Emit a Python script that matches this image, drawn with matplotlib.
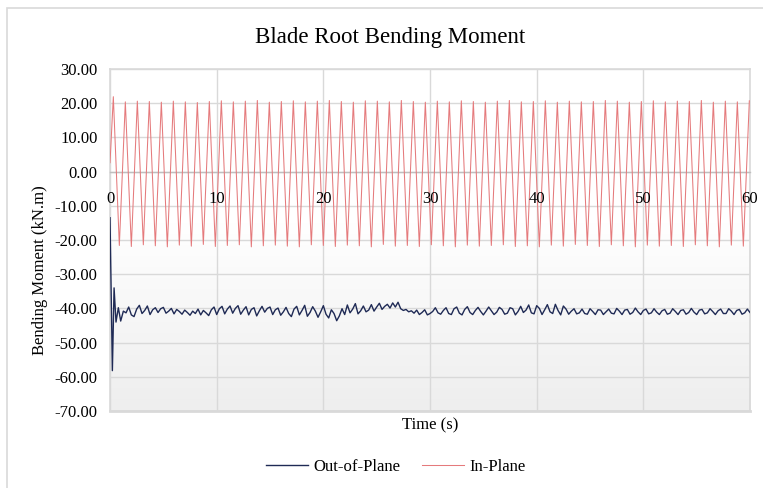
#!/usr/bin/env python
# -*- coding: utf-8 -*-

"""
plot.py

Momento fletor na raiz da pá (out-of-plane / in-plane) ao longo do tempo.
Salva o gráfico em out.png.
"""

from __future__ import annotations

import numpy as np
import matplotlib

matplotlib.use("Agg")
import matplotlib.pyplot as plt
import matplotlib.transforms as mtransforms
from matplotlib.colors import LinearSegmentedColormap
from matplotlib.patches import Rectangle


# ============================================================
# Dados
# ============================================================

TITLE = "Blade Root Bending Moment"
X_LABEL = "Time (s)"
Y_LABEL = "Bending Moment (kN.m)"
SERIES_NAMES = ["Out-of-Plane", "In-Plane"]

X_TICKS = [0, 10, 20, 30, 40, 50, 60]
Y_TICKS = [30, 20, 10, 0, -10, -20, -30, -40, -50, -60, -70]

# Out-of-plane: transitório inicial (tempos e valores)
oop_transient_t = [0.0, 0.22, 0.38, 0.56, 0.78, 1.0, 1.25]
oop_transient_v = [-13.5, -58.2, -34.0, -44.0, -39.8, -43.7, -40.8]

# Out-of-plane: regime, amostras a cada 0.25 s a partir de 1.5 s
oop_start = 1.5
oop_dt = 0.25
oop_values = [
    # 1.5 - 6.25
    -41.3, -39.6, -41.9, -42.4, -40.2, -39.1, -41.5, -40.6, -39.3, -41.8,
    -40.4, -39.8, -41.2, -40.1, -39.7, -41.4, -40.8, -40.0, -41.6, -40.3,
    # 6.5 - 11.25
    -40.9, -41.7, -40.5, -41.2, -42.0, -40.8, -41.5, -40.2, -41.9, -40.6,
    -41.3, -42.1, -40.4, -39.6, -41.8, -40.1, -39.4, -41.6, -40.2, -39.3,
    # 11.5 - 16.25
    -41.4, -40.0, -39.2, -41.7, -40.5, -39.5, -41.9, -40.3, -39.8, -42.2,
    -40.7, -39.4, -41.1, -40.0, -39.6, -41.8, -40.4, -39.9, -42.0, -41.0,
    # 16.5 - 21.25
    -39.7, -41.5, -42.4, -40.2, -39.4, -41.9, -40.6, -39.1, -42.3, -41.2,
    -39.5, -40.8, -42.6, -41.0, -39.2, -41.7, -42.8, -40.4, -41.5, -43.6,
    # 21.5 - 26.25
    -42.2, -40.1, -41.8, -39.0, -41.3, -40.2, -38.6, -41.6, -40.7, -39.3,
    -41.0, -40.5, -38.9, -40.8, -39.6, -38.5, -40.3, -39.4, -38.8, -39.9,
    # 26.5 - 31.25
    -38.4, -39.6, -38.2, -40.1, -40.6, -40.3, -41.0, -40.7, -41.4, -40.5,
    -41.8, -41.2, -40.4, -41.9, -41.5, -40.9, -39.8, -41.3, -41.7, -40.6,
    # 31.5 - 36.25
    -39.8, -41.5, -41.8, -40.1, -39.6, -41.4, -41.9, -40.3, -39.5, -41.2,
    -41.8, -40.6, -39.7, -40.9, -41.9, -40.8, -39.6, -40.7, -41.8, -41.1,
    # 36.5 - 41.25
    -39.7, -40.3, -41.7, -41.4, -39.8, -40.1, -41.9, -40.9, -39.4, -41.2,
    -40.5, -39.0, -41.3, -41.6, -39.2, -40.0, -41.8, -40.4, -38.9, -41.0,
    # 41.5 - 46.25
    -41.5, -38.8, -40.6, -41.9, -39.3, -40.2, -41.7, -40.8, -40.1, -41.6,
    -41.3, -40.2, -41.5, -41.7, -40.1, -40.9, -41.8, -40.4, -40.5, -41.8,
    # 46.5 - 51.25
    -41.0, -40.2, -41.4, -41.6, -40.0, -40.8, -41.8, -40.5, -40.3, -41.7,
    -41.2, -39.9, -41.0, -41.8, -40.6, -40.2, -41.6, -41.3, -40.1, -41.1,
    # 51.5 - 56.25
    -41.8, -40.7, -40.3, -41.7, -41.4, -40.1, -40.9, -41.8, -40.6, -40.4,
    -41.7, -41.2, -40.0, -41.1, -41.8, -40.5, -40.3, -41.6, -41.3, -40.1,
    # 56.5 - 60
    -40.9, -41.8, -40.7, -40.2, -41.5, -41.5, -40.1, -40.8, -41.8, -40.6,
    -40.3, -41.7, -41.3, -40.2, -41.2,
]

# In-plane: valor inicial e extremos (picos / vales) a cada meio período
ip_initial_v = 2.6
ip_first_extreme_t = 0.31
ip_half_period = 0.5625
ip_peaks = [
    21.9, 20.4, 20.6, 20.5, 20.3, 20.6, 20.4, 20.2, 20.5, 20.7,
    20.4, 20.6, 20.8, 20.3, 20.5, 20.7, 20.4, 20.6, 20.8, 20.5,
    20.3, 20.7, 20.6, 20.4, 20.8, 20.5, 20.3, 20.6, 20.4, 20.7,
    20.5, 20.3, 20.6, 20.8, 20.4, 20.5, 20.7, 20.3, 20.6, 20.4,
    20.5, 20.8, 20.6, 20.3, 20.5, 20.7, 20.4, 20.6, 20.5, 20.8,
    20.3, 20.6, 20.4, 20.7,
]
ip_troughs = [
    -21.6, -21.9, -21.4, -21.7, -22.0, -21.5, -21.8, -21.3, -21.9, -21.6,
    -21.4, -22.0, -21.7, -21.5, -21.8, -22.0, -21.4, -21.6, -21.9, -21.5,
    -21.7, -22.0, -21.3, -21.8, -21.6, -21.9, -21.4, -21.7, -22.0, -21.5,
    -21.8, -21.6, -21.4, -21.9, -21.7, -22.0, -21.5, -21.8, -21.3, -21.6,
    -21.9, -21.4, -21.7, -22.0, -21.5, -21.8, -21.6, -21.9, -21.4, -21.7,
    -22.0, -21.5, -21.8,
]


# ============================================================
# Montagem das séries
# ============================================================

def build_out_of_plane() -> tuple[np.ndarray, np.ndarray]:
    t_steady = oop_start + oop_dt * np.arange(len(oop_values))
    t = np.concatenate([oop_transient_t, t_steady])
    v = np.concatenate([oop_transient_v, oop_values])
    return t, v


def build_in_plane() -> tuple[np.ndarray, np.ndarray]:
    extremes = []
    for i, peak in enumerate(ip_peaks):
        extremes.append(peak)
        if i < len(ip_troughs):
            extremes.append(ip_troughs[i])
    t_ext = ip_first_extreme_t + ip_half_period * np.arange(len(extremes))
    t = np.concatenate([[0.0], t_ext])
    v = np.concatenate([[ip_initial_v], extremes])
    return t, v


# ============================================================
# Gráfico
# ============================================================

def main() -> None:
    plt.rcParams["font.family"] = ["Liberation Serif", "DejaVu Serif"]

    fig = plt.figure(figsize=(7.63, 4.88), dpi=100)
    ax = fig.add_axes([0.1442, 0.1578, 0.8388, 0.7008])

    # borda do "chart area" estilo Excel
    fig.patches.append(
        Rectangle(
            (7 / 763, -0.05), 1.2, 1 - 8 / 488 + 0.05,
            transform=fig.transFigure, facecolor="none",
            edgecolor="#d9d9d9", linewidth=1.2, zorder=0,
        )
    )

    # fundo com gradiente (branco em cima, cinza claro embaixo)
    grad = np.linspace(0, 1, 256).reshape(-1, 1)
    grad = np.clip((grad - 0.45) / 0.55, 0, 1)
    cmap = LinearSegmentedColormap.from_list("bg", ["#ffffff", "#eeeeee"])
    ax.imshow(
        grad, aspect="auto", cmap=cmap, extent=[0, 60, -70, 30],
        origin="upper", zorder=0, vmin=0, vmax=1,
    )

    t_oop, v_oop = build_out_of_plane()
    t_ip, v_ip = build_in_plane()

    ax.plot(t_oop, v_oop, color="#1f2a55", linewidth=1.0,
            label=SERIES_NAMES[0], zorder=3)
    ax.plot(t_ip, v_ip, color="#e57a7c", linewidth=0.75,
            label=SERIES_NAMES[1], zorder=3)

    ax.set_xlim(0, 60)
    ax.set_ylim(-70, 30)

    ax.set_xticks(X_TICKS)
    ax.set_xticklabels([])
    ax.set_yticks(Y_TICKS)
    ax.set_yticklabels([f"{y:.2f}" for y in Y_TICKS], fontsize=12)
    ax.tick_params(axis="both", length=0)
    ax.tick_params(axis="y", pad=9)

    # rótulos do eixo x logo abaixo da linha y = 0, por cima das curvas
    offset = mtransforms.ScaledTranslation(0, -14 / 72, fig.dpi_scale_trans)
    for x in X_TICKS:
        ax.text(x, 0, str(x), fontsize=12, ha="center", va="top",
                transform=ax.transData + offset, zorder=6, clip_on=False)

    ax.grid(True, color="#d9d9d9", linewidth=1.0, zorder=1)
    ax.set_axisbelow(True)

    # eixo x cruzando em y = 0
    for side in ["top", "right", "left"]:
        ax.spines[side].set_color("#d9d9d9")
        ax.spines[side].set_linewidth(1.2)
    ax.spines["bottom"].set_position(("data", 0))
    ax.spines["bottom"].set_color("#bfbfbf")
    ax.spines["bottom"].set_linewidth(1.0)
    ax.plot([0, 1], [0, 0], transform=ax.transAxes, color="#d9d9d9",
            linewidth=2.0, clip_on=False, zorder=2)

    fig.text(390 / 763, 1 - 37 / 488, TITLE, fontsize=16.5,
             ha="center", va="center")
    fig.text(430 / 763, 1 - 425 / 488, X_LABEL, fontsize=12,
             ha="center", va="center")
    fig.text(40 / 763, 1 - 270 / 488, Y_LABEL, fontsize=12,
             ha="center", va="center", rotation=90)

    handles, labels = ax.get_legend_handles_labels()
    fig.legend(
        handles, labels, loc="center", ncol=2,
        bbox_to_anchor=(396 / 763, 1 - 467 / 488), frameon=False,
        fontsize=12, handlelength=2.5, handletextpad=0.35,
        columnspacing=1.3,
    )

    fig.savefig("out.png", dpi=100)
    plt.close(fig)


if __name__ == "__main__":
    main()
